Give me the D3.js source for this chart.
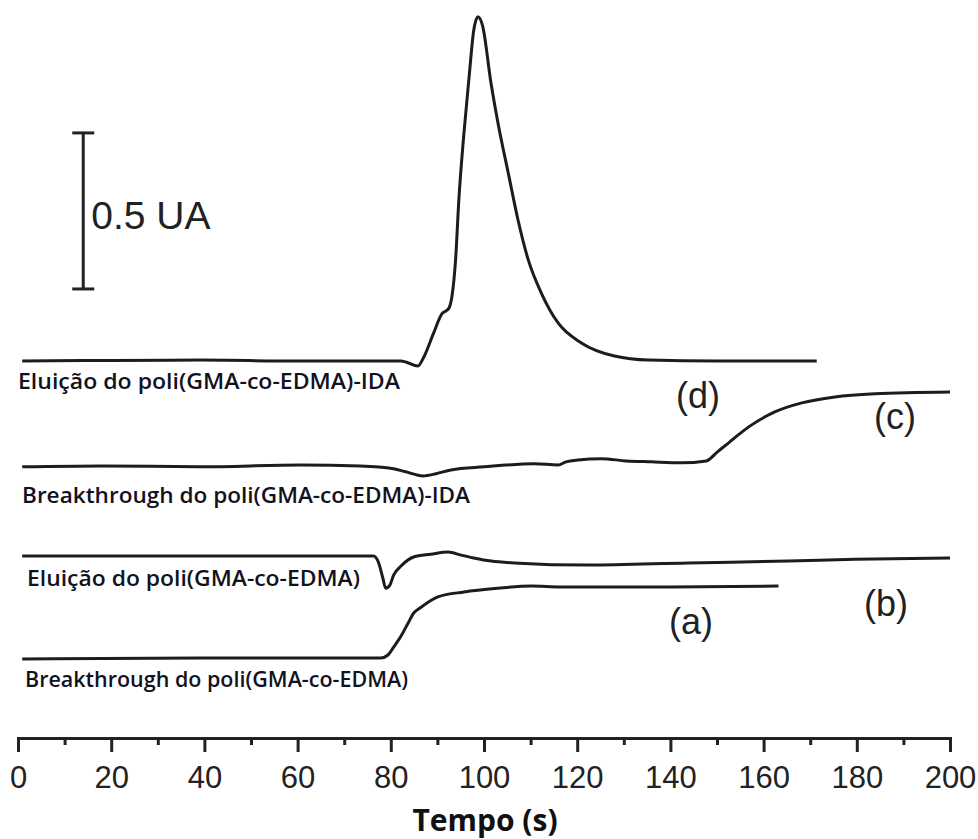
<!DOCTYPE html>
<html>
<head>
<meta charset="utf-8">
<script src="https://cdn.jsdelivr.net/npm/d3@7"></script>
<style>
  html, body { margin: 0; padding: 0; background: #fff; }
  svg { display: block; }
</style>
</head>
<body>
<div id="chart"></div>
<script>
// tempo (s) e sinal (UA) de cada curva, relativo à própria linha de base
var tempoD = [0.9, 20, 39.1, 60, 82.2, 83.2, 85.8, 87.1, 89.2, 91.1, 91.8, 92.5, 93.1, 93.9, 94.6, 95.7, 96.8, 97.8, 98.7, 99.7, 101.5, 103.0, 105.2, 107.3, 109.5, 112.3, 115.9, 120.9, 128.0, 135.3, 150, 171.4];
var sinalD = [0, 0.002, 0.003, 0, 0, -0.003, -0.016, 0.013, 0.090, 0.154, 0.160, 0.170, 0.205, 0.324, 0.516, 0.731, 0.910, 1.060, 1.103, 1.074, 0.891, 0.763, 0.603, 0.452, 0.324, 0.218, 0.122, 0.058, 0.016, 0.003, 0, 0];

var tempoC = [0.9, 17.6, 39.1, 60.6, 73.5, 80.6, 83.2, 86.9, 89.7, 92.9, 100.0, 110.8, 115.9, 117.6, 120.2, 125.2, 130.5, 135.9, 142.4, 147.7, 150.1, 152.5, 156.8, 162.4, 168.2, 175.3, 183.9, 200];
var sinalC = [0, 0.003, 0, 0.006, 0.003, -0.006, -0.016, -0.029, -0.022, -0.010, 0, 0.010, 0.006, 0.016, 0.022, 0.026, 0.019, 0.016, 0.013, 0.019, 0.048, 0.077, 0.128, 0.176, 0.205, 0.224, 0.234, 0.240];

var tempoB = [0.9, 28.4, 60.6, 76.3, 77.4, 78.3, 78.9, 79.8, 80.6, 82.2, 84.9, 88.6, 92.3, 95.1, 97.8, 101.5, 106.5, 122.4, 143.9, 165.4, 179.6, 200];
var sinalB = [0, 0, 0, 0, -0.022, -0.071, -0.103, -0.093, -0.061, -0.032, -0.003, 0.006, 0.013, 0.003, -0.006, -0.016, -0.022, -0.029, -0.022, -0.016, -0.010, -0.006];

var tempoA = [0.9, 39.1, 77.8, 79.4, 80.6, 82.2, 83.7, 84.9, 86.5, 90.1, 95.7, 103.0, 110.1, 116.6, 138.1, 163.2];
var sinalA = [-0.003, 0, 0, 0.010, 0.035, 0.071, 0.112, 0.144, 0.163, 0.196, 0.212, 0.224, 0.231, 0.228, 0.228, 0.231];

// deslocamento vertical de cada curva (UA)
var deslocamento = { d: 1.208, c: 0.869, b: 0.583, a: 0.256 };
var letras = ["(d)", "(c)", "(b)", "(a)"];
var nomes = [
  "Eluição do poli(GMA-co-EDMA)-IDA",
  "Breakthrough do poli(GMA-co-EDMA)-IDA",
  "Eluição do poli(GMA-co-EDMA)",
  "Breakthrough do poli(GMA-co-EDMA)"
];
var ticksX = [0, 20, 40, 60, 80, 100, 120, 140, 160, 180, 200];
var ticksMenores = [10, 30, 50, 70, 90, 110, 130, 150, 170, 190];
var escalaBarra = 0.5;

var width = 978, height = 839;
var svg = d3.select("#chart").append("svg")
  .attr("width", width)
  .attr("height", height);

var x = d3.scaleLinear().domain([0, 200]).range([18, 950]);
var y = d3.scaleLinear().domain([0, 2.365]).range([738, 0]);

var line = d3.line()
  .x(function(d) { return x(d[0]); })
  .y(function(d) { return y(d[1]); })
  .curve(d3.curveMonotoneX);

function serie(ts, vs, off) {
  return ts.map(function(t, i) { return [t, vs[i] + off]; });
}

var curvas = [
  serie(tempoD, sinalD, deslocamento.d),
  serie(tempoC, sinalC, deslocamento.c),
  serie(tempoB, sinalB, deslocamento.b),
  serie(tempoA, sinalA, deslocamento.a)
];

svg.selectAll("path.curva")
  .data(curvas)
  .enter().append("path")
  .attr("class", "curva")
  .attr("d", line)
  .attr("fill", "none")
  .attr("stroke", "#1c1c1c")
  .attr("stroke-width", 3)
  .attr("stroke-linejoin", "round");

// eixo x
var eixo = svg.append("g")
  .attr("transform", "translate(0," + y(0) + ")")
  .call(d3.axisBottom(x).tickValues(ticksX).tickSize(14).tickSizeOuter(14).tickPadding(14));
eixo.select(".domain").attr("stroke", "#222").attr("stroke-width", 3);
eixo.selectAll(".tick line").attr("stroke", "#222").attr("stroke-width", 3);
eixo.selectAll(".tick text")
  .attr("font-family", "Liberation Sans, Arial, sans-serif")
  .attr("font-size", 31)
  .attr("fill", "#222");

var menores = svg.append("g")
  .attr("transform", "translate(0," + y(0) + ")")
  .call(d3.axisBottom(x).tickValues(ticksMenores).tickSize(7).tickFormat(""));
menores.select(".domain").remove();
menores.selectAll(".tick line").attr("stroke", "#222").attr("stroke-width", 3);

svg.append("text")
  .attr("x", 485)
  .attr("y", 831)
  .attr("text-anchor", "middle")
  .attr("font-family", "Open Sans, sans-serif")
  .attr("font-weight", 700)
  .attr("font-size", 30)
  .attr("fill", "#111")
  .text("Tempo (s)");

// barra de escala 0.5 UA
var bx = x(14.0), b0 = 1.439;
var barra = svg.append("g").attr("stroke", "#222").attr("stroke-width", 3);
barra.append("line").attr("x1", bx).attr("x2", bx).attr("y1", y(b0)).attr("y2", y(b0 + escalaBarra));
barra.append("line").attr("x1", bx - 11).attr("x2", bx + 11).attr("y1", y(b0)).attr("y2", y(b0));
barra.append("line").attr("x1", bx - 11).attr("x2", bx + 11).attr("y1", y(b0 + escalaBarra)).attr("y2", y(b0 + escalaBarra));
svg.append("text")
  .attr("x", bx + 8)
  .attr("y", 229)
  .attr("font-family", "Liberation Sans, Arial, sans-serif")
  .attr("font-size", 39)
  .attr("fill", "#222")
  .text(escalaBarra + " UA");

// nomes das curvas
var posNomes = [[18, 389, 382], [22, 503, 448], [27, 586, 333], [25, 687, 383]];
svg.selectAll("text.nome")
  .data(nomes)
  .enter().append("text")
  .attr("class", "nome")
  .attr("x", function(d, i) { return posNomes[i][0]; })
  .attr("y", function(d, i) { return posNomes[i][1]; })
  .attr("textLength", function(d, i) { return posNomes[i][2]; })
  .attr("lengthAdjust", "spacingAndGlyphs")
  .attr("font-family", "Open Sans, sans-serif")
  .attr("font-weight", 600)
  .attr("font-size", 21.5)
  .attr("fill", "#12121e")
  .text(function(d) { return d; });

// letras (a)-(d)
var posLetras = [[698, 408], [895, 429], [886, 616], [691, 634]];
svg.selectAll("text.letra")
  .data(letras)
  .enter().append("text")
  .attr("class", "letra")
  .attr("x", function(d, i) { return posLetras[i][0]; })
  .attr("y", function(d, i) { return posLetras[i][1]; })
  .attr("text-anchor", "middle")
  .attr("font-family", "Liberation Sans, Arial, sans-serif")
  .attr("font-size", 36)
  .attr("fill", "#222")
  .text(function(d) { return d; });
</script>
</body>
</html>
